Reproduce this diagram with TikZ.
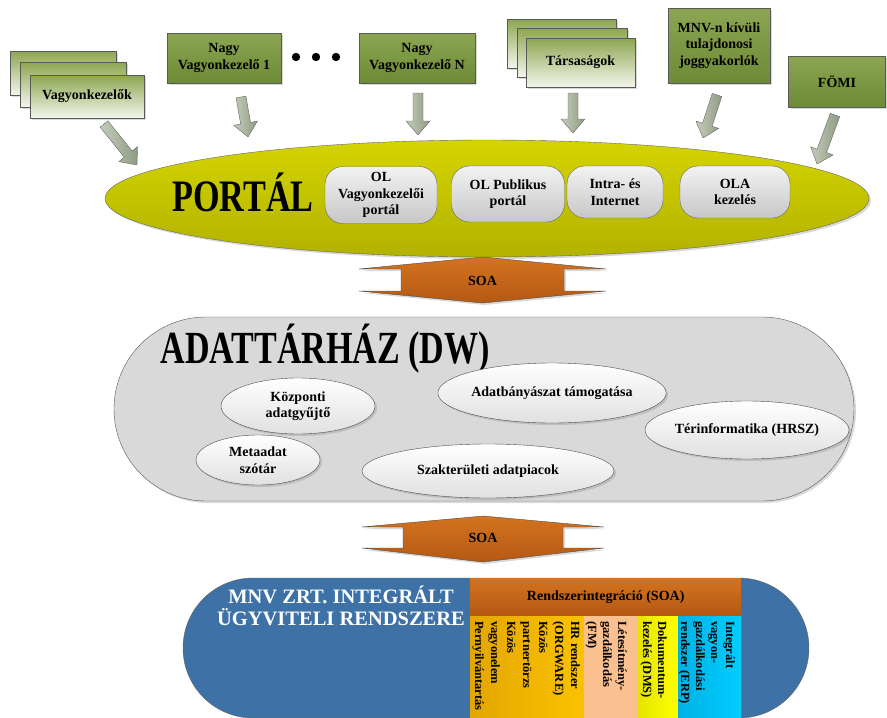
\documentclass[tikz,border=0pt]{standalone}
\usepackage{fontspec}
\setmainfont{Liberation Serif}
\usetikzlibrary{shapes.geometric,shadows}
\newcommand{\fatarrow}[2]{%
  \pgfmathanglebetweenpoints{\pgfpointanchor{#1}{center}}{\pgfpointanchor{#2}{center}}%
  \edef\fatang{\pgfmathresult}%
  \pgfpointdiff{\pgfpointanchor{#1}{center}}{\pgfpointanchor{#2}{center}}%
  \pgfgetlastxy{\fatdx}{\fatdy}%
  \pgfmathveclen{\fatdx}{\fatdy}%
  \edef\fatlen{\pgfmathresult pt}%
  \begin{scope}[shift={(#1)},rotate=\fatang]
    \draw[fatarr] (0pt,-5pt) -- ({\fatlen-14pt},-5pt) -- ({\fatlen-14pt},-12pt) -- (\fatlen,0pt)
      -- ({\fatlen-14pt},12pt) -- ({\fatlen-14pt},5pt) -- (0pt,5pt) -- cycle;
  \end{scope}}
\begin{document}
\begin{tikzpicture}[x=1pt,y=-1pt,
  font=\bfseries\fontsize{14}{16.5}\selectfont,
  shad/.style={drop shadow={opacity=.3,shadow xshift=2pt,shadow yshift=-2pt}},
  olivebox/.style={draw=black!65,top color=olivetop,bottom color=olivebot,align=center,inner sep=1pt,shad},
  stackbox/.style={draw=black!65,top color=stacktop,bottom color=stackbot,align=center,inner sep=1pt,shad},
  portalbox/.style={draw=black!60,top color=black!5,bottom color=black!22,rounded corners=18pt,align=center,inner sep=1pt},
  dwell/.style={ellipse,draw=black!70,top color=white,bottom color=black!12,align=center,inner sep=0pt,shad},
  fatarr/.style={draw=black!60,left color=arrleft,right color=arrright,line join=round},
  soaarr/.style={draw=black!70,top color=soatop,bottom color=soabot,shad},
  vtext/.style={rotate=-90,anchor=north west,inner sep=0pt,align=left,font=\bfseries\fontsize{12.5}{15}\selectfont}]
\definecolor{olivetop}{HTML}{8CA653}
\definecolor{olivebot}{HTML}{6E8A36}
\definecolor{stacktop}{HTML}{8DA651}
\definecolor{stackbot}{HTML}{F3F6EC}
\definecolor{arrleft}{HTML}{C4CCB9}
\definecolor{arrright}{HTML}{8E9B83}
\definecolor{portaltop}{HTML}{D4D400}
\definecolor{portalbot}{HTML}{B2B200}
\definecolor{soatop}{HTML}{D4731F}
\definecolor{soabot}{HTML}{B45914}
\definecolor{dwgray}{HTML}{D9D9D9}
\definecolor{mnvblue}{HTML}{3E72A6}
\definecolor{goldl}{HTML}{E2A600}
\definecolor{goldr}{HTML}{FBC200}
\definecolor{peach}{HTML}{FAC08F}
\definecolor{yell}{HTML}{E4E400}
\definecolor{yelr}{HTML}{FFFF00}
\definecolor{cyanl}{HTML}{00B2E4}
\definecolor{cyanr}{HTML}{00CDFF}
\useasboundingbox (0,0) rectangle (887,718);

\node[stackbox,minimum width=106pt,minimum height=44pt] (vkc) at (63,73) {};
\node[stackbox,minimum width=106pt,minimum height=45pt] (vkb) at (73,84.5) {};
\node[stackbox,minimum width=114pt,minimum height=43pt] (vk) at (87,96.5) {Vagyonkezelők};
\node[olivebox,minimum width=114pt,minimum height=50pt] (nvk1) at (224,58) {Nagy\\Vagyonkezelő 1};
\node[olivebox,minimum width=116pt,minimum height=50pt] (nvkn) at (417,58) {Nagy\\Vagyonkezelő N};
\foreach \dx in {296,316,336} \fill (\dx,57) circle (4.2pt);
\node[stackbox,minimum width=109pt,minimum height=49pt] (tsc) at (561.5,43.5) {};
\node[stackbox,minimum width=110pt,minimum height=49pt] (tsb) at (572,52.5) {};
\node[stackbox,minimum width=109pt,minimum height=49pt] (ts) at (580.5,62.5) {Társaságok};
\node[olivebox,minimum width=102pt,minimum height=75pt] (mnvk) at (719,45.5) {MNV-n kívüli\\tulajdonosi\\joggyakorlók};
\node[olivebox,minimum width=97pt,minimum height=51pt] (fomi) at (837,81.5) {FÖMI};

\node[ellipse,draw=black!60,top color=portaltop,bottom color=portalbot,minimum width=764pt,minimum height=117pt,inner sep=0pt,shad] (portal) at (487,198.5) {};
\node[font=\bfseries\fontsize{45}{45}\selectfont,xscale=0.76] (portaltitle) at (243,192) {PORTÁL};
\node[portalbox,minimum width=112pt,minimum height=57pt] (olv) at (381,195) {OL\\Vagyonkezelői\\portál};
\node[portalbox,minimum width=113pt,minimum height=56pt] (olp) at (508,194) {OL Publikus\\portál};
\node[portalbox,minimum width=96pt,minimum height=52pt] (inet) at (615,192) {Intra- és\\Internet};
\node[portalbox,minimum width=110pt,minimum height=52pt] (ola) at (735,192) {OLA\\kezelés};

\coordinate (a1t) at (104,124); \coordinate (a1h) at (137,165);
\coordinate (a2t) at (241,97); \coordinate (a2h) at (248,137);
\coordinate (a3t) at (418,93); \coordinate (a3h) at (418,135);
\coordinate (a4t) at (573,93); \coordinate (a4h) at (573,133);
\coordinate (a5t) at (717,95); \coordinate (a5h) at (703,138);
\coordinate (a6t) at (835,115); \coordinate (a6h) at (817,164);
\fatarrow{a1t}{a1h}
\fatarrow{a2t}{a2h}
\fatarrow{a3t}{a3h}
\fatarrow{a4t}{a4h}
\fatarrow{a5t}{a5h}
\fatarrow{a6t}{a6h}

\draw[soaarr] (359,269) -- (482.5,257) -- (606,269) -- (564,269) -- (564,291) -- (606,291)
  -- (482.5,303) -- (359,291) -- (401,291) -- (401,269) -- cycle;
\node (soa1) at (482.5,281) {SOA};

\node[rectangle,draw=black!65,fill=dwgray,rounded corners=92pt,minimum width=740pt,minimum height=184pt,inner sep=0pt,shad] (dw) at (484,409) {};
\node[font=\bfseries\fontsize{46}{46}\selectfont,xscale=0.74,anchor=west] (dwtitle) at (158,349) {ADATTÁRHÁZ (DW)};
\node[dwell,minimum width=154pt,minimum height=56pt] (kozp) at (298,406) {Központi\\adatgyűjtő};
\node[dwell,minimum width=208pt,minimum height=60pt] (adatb) at (552,393) {Adatbányászat támogatása};
\node[dwell,minimum width=190pt,minimum height=58pt] (terinf) at (747,430) {Térinformatika (HRSZ)};
\node[dwell,minimum width=124pt,minimum height=50pt] (meta) at (258,460) {Metaadat\\szótár};
\node[dwell,minimum width=252pt,minimum height=54pt] (szakt) at (488,471) {Szakterületi adatpiacok};

\draw[soaarr] (362,527) -- (483,516) -- (604,527) -- (563,527) -- (563,548) -- (604,548)
  -- (483,562) -- (362,548) -- (403,548) -- (403,527) -- cycle;
\node (soa2) at (483,538) {SOA};

\node[rectangle,draw=black!60,fill=mnvblue,rounded corners=70pt,minimum width=626pt,minimum height=140pt,inner sep=0pt] (mnv) at (496,648) {};
\node[text=white,align=center,font=\bfseries\fontsize{20.5}{22}\selectfont] (mnvtitle) at (341,606) {MNV ZRT. INTEGRÁLT\\ÜGYVITELI RENDSZERE};
\shade[left color=goldl,right color=goldr] (470,615) rectangle (584,718);
\fill[peach] (584,615) rectangle (637,718);
\shade[left color=yell,right color=yelr] (637,615) rectangle (678,718);
\shade[left color=cyanl,right color=cyanr] (678,615) rectangle (741,718);
\node[top color=soatop,bottom color=soabot,minimum width=271pt,minimum height=37pt,inner sep=0pt,anchor=north west] (rint) at (470,578) {Rendszerintegráció (SOA)};
\node[vtext,font=\bfseries\fontsize{12.5}{16}\selectfont] (colhr) at (580,621) {HR rendszer\\(ORGWARE)\\Közös\\partnertörzs\\Közös\\vagyonelem\\Pernyilvántartás};
\node[vtext] (colfm) at (627,621) {Létesítmény-\\gazdálkodás\\(FM)};
\node[vtext] (coldms) at (667,621) {Dokumentum-\\kezelés (DMS)};
\node[vtext] (colerp) at (735,621) {Integrált\\vagyon-\\gazdálkodási\\rendszer (ERP)};
\end{tikzpicture}
\end{document}
